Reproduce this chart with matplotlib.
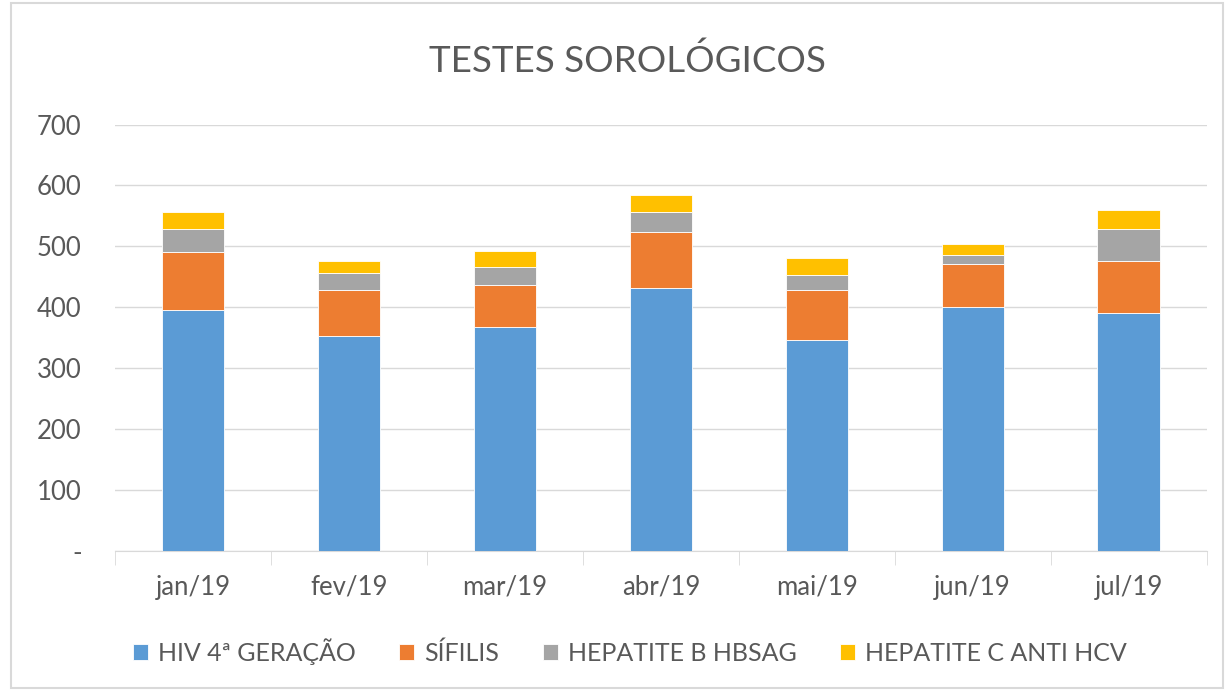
import numpy as np
import matplotlib.pyplot as plt
from matplotlib.patches import Rectangle

plt.rcParams['font.family'] = ['Lato', 'DejaVu Sans']

# Data
months = ['jan/19', 'fev/19', 'mar/19', 'abr/19', 'mai/19', 'jun/19', 'jul/19']
hiv = [396, 353, 367, 431, 347, 400, 390]
sifilis = [95, 75, 69, 92, 81, 71, 86]
hepatite_b = [38, 28, 30, 33, 25, 15, 53]
hepatite_c = [27, 20, 27, 28, 28, 18, 30]

series = [
    ('HIV 4ª GERAÇÃO', hiv, '#5B9BD5'),
    ('SÍFILIS', sifilis, '#ED7D31'),
    ('HEPATITE B HBSAG', hepatite_b, '#A5A5A5'),
    ('HEPATITE C ANTI HCV', hepatite_c, '#FFC000'),
]
text_color = '#595959'

fig = plt.figure(figsize=(12.3, 6.91), dpi=100)
ax = fig.add_axes([0.0935, 0.2026, 0.8875, 0.6172])

x = np.arange(len(months))
bottom = np.zeros(len(months))
for name, vals, color in series:
    ax.bar(x, vals, width=0.4, bottom=bottom, color=color, label=name,
           edgecolor='white', linewidth=0.6, zorder=3)
    bottom += np.array(vals)

ax.set_xlim(-0.5, len(months) - 0.5)
ax.set_ylim(0, 700)
ax.set_yticks(range(0, 701, 100))
ax.set_yticklabels(['-'] + [str(v) for v in range(100, 701, 100)])
ax.set_xticks(x)
ax.set_xticklabels(months)
ax.set_xticks(np.arange(-0.5, len(months)), minor=True)

ax.grid(axis='y', color='#D9D9D9', linewidth=1, zorder=0)
for s in ['top', 'right', 'left']:
    ax.spines[s].set_visible(False)
ax.spines['bottom'].set_color('#D9D9D9')
ax.tick_params(axis='y', length=0, pad=24, labelsize=18.5, labelcolor=text_color)
ax.tick_params(axis='x', which='major', length=0, pad=17, labelsize=18.5, labelcolor=text_color)
ax.tick_params(axis='x', which='minor', length=10, color='#D9D9D9')

fig.text(0.51, 0.912, 'TESTES SOROLÓGICOS', ha='center', va='center',
         fontsize=26.5, color=text_color)

leg = fig.legend(loc='center', bbox_to_anchor=(0.512, 0.057), ncol=4, frameon=False,
                 fontsize=18, labelcolor=text_color, handlelength=0.6, handleheight=0.6,
                 handletextpad=0.4, columnspacing=1.75)

fig.patches.append(Rectangle((0.009, 0.005), 0.985, 0.99, transform=fig.transFigure,
                             fill=False, edgecolor='#D9D9D9', linewidth=1.5))

fig.savefig('out.png', dpi=100)
